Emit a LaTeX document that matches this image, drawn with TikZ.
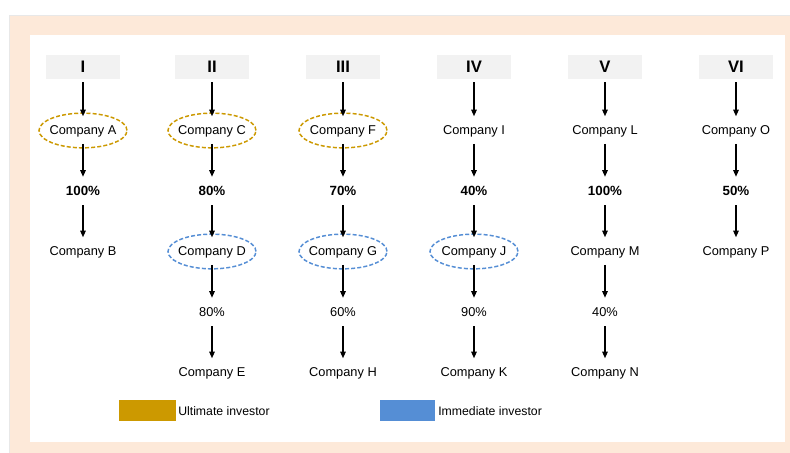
\documentclass[tikz,border=0pt]{standalone}
\usepackage{fontspec}
\setmainfont{Liberation Sans}
\usetikzlibrary{arrows.meta,shapes,positioning}
\definecolor{peach}{HTML}{FDE9D9}
\definecolor{framegray}{HTML}{E8E8E8}
\definecolor{hdrgray}{HTML}{F2F2F2}
\definecolor{ultgold}{HTML}{CC9900}
\definecolor{immblue}{HTML}{558ED5}
\tikzset{
  level/.style={fill=hdrgray, minimum width=55.5pt, minimum height=18pt, inner sep=0pt, font=\bfseries\fontsize{12.5}{14}\selectfont},
  company/.style={minimum height=20.25pt, inner sep=0pt, text height=6.9pt, text depth=0pt, font=\fontsize{9.6}{11}\selectfont},
  share/.style={minimum height=21pt, inner sep=0pt, text height=6.9pt, text depth=0pt, font=\fontsize{9.6}{11}\selectfont},
  bigshare/.style={share, text height=7.2pt, font=\bfseries\fontsize{10}{12}\selectfont},
  ultimate/.style={ellipse, draw=ultgold, line width=1.1pt, dash pattern=on 3pt off 1.6pt, minimum width=66pt, minimum height=26pt, inner sep=0pt},
  immediate/.style={ultimate, draw=immblue},
  own/.style={-{Triangle[length=5pt,width=4.2pt]}, line width=0.9pt},
  legendtext/.style={anchor=west, inner sep=0pt, text height=6.6pt, text depth=0pt, font=\fontsize{9.2}{11}\selectfont}
}
\begin{document}
\begin{tikzpicture}[x=0.75pt,y=-0.75pt]
\useasboundingbox (0,0) rectangle (790,453);
% frame
\fill[peach] (10,16) rectangle (790,453);
\draw[framegray, line width=1pt] (9.5,453) -- (9.5,15.5) -- (790,15.5);
\fill[white] (30,35) rectangle (785,442);

% headers
\node[level] (hI) at (83,67) {I};
\node[level] (hII) at (212,67) {II};
\node[level] (hIII) at (343,67) {III};
\node[level] (hIV) at (474,67) {IV};
\node[level] (hV) at (605,67) {V};
\node[level] (hVI) at (736,67) {VI};

% investor marks
\node[ultimate] (eA) at (83,130.5) {};
\node[ultimate] (eC) at (212,130.5) {};
\node[ultimate] (eF) at (343,130.5) {};
\node[immediate] (eD) at (212,251.5) {};
\node[immediate] (eG) at (343,251.5) {};
\node[immediate] (eJ) at (474,251.5) {};

% column I
\node[company] (cA) at (83,130) {Company A};
\node[bigshare] (sA) at (83,191) {100\%};
\node[company] (cB) at (83,251) {Company B};

% column II
\node[company] (cC) at (212,130) {Company C};
\node[bigshare] (sC) at (212,191) {80\%};
\node[company] (cD) at (212,251) {Company D};
\node[share] (sD) at (212,312) {80\%};
\node[company] (cE) at (212,372) {Company E};

% column III
\node[company] (cF) at (343,130) {Company F};
\node[bigshare] (sF) at (343,191) {70\%};
\node[company] (cG) at (343,251) {Company G};
\node[share] (sG) at (343,312) {60\%};
\node[company] (cH) at (343,372) {Company H};

% column IV
\node[company] (cI) at (474,130) {Company I};
\node[bigshare] (sI) at (474,191) {40\%};
\node[company] (cJ) at (474,251) {Company J};
\node[share] (sJ) at (474,312) {90\%};
\node[company] (cK) at (474,372) {Company K};

% column V
\node[company] (cL) at (605,130) {Company L};
\node[bigshare] (sL) at (605,191) {100\%};
\node[company] (cM) at (605,251) {Company M};
\node[share] (sM) at (605,312) {40\%};
\node[company] (cN) at (605,372) {Company N};

% column VI
\node[company] (cO) at (736,130) {Company O};
\node[bigshare] (sO) at (736,191) {50\%};
\node[company] (cP) at (736,251) {Company P};

\draw[own, shorten <=2.25pt] (hI) -- (cA);
\draw[own, shorten <=2.25pt] (hII) -- (cC);
\draw[own, shorten <=2.25pt] (hIII) -- (cF);
\draw[own, shorten <=2.25pt] (hIV) -- (cI);
\draw[own, shorten <=2.25pt] (hV) -- (cL);
\draw[own, shorten <=2.25pt] (hVI) -- (cO);

\draw[own] (cA) -- (sA);
\draw[own] (sA) -- (cB);

\draw[own] (cC) -- (sC);
\draw[own] (sC) -- (cD);
\draw[own] (cD) -- (sD);
\draw[own] (sD) -- (cE);

\draw[own] (cF) -- (sF);
\draw[own] (sF) -- (cG);
\draw[own] (cG) -- (sG);
\draw[own] (sG) -- (cH);

\draw[own] (cI) -- (sI);
\draw[own] (sI) -- (cJ);
\draw[own] (cJ) -- (sJ);
\draw[own] (sJ) -- (cK);

\draw[own] (cL) -- (sL);
\draw[own] (sL) -- (cM);
\draw[own] (cM) -- (sM);
\draw[own] (sM) -- (cN);

\draw[own] (cO) -- (sO);
\draw[own] (sO) -- (cP);

% legend
\fill[ultgold] (119,400) rectangle (176,421);
\node[legendtext] (lU) at (178,411) {Ultimate investor};
\fill[immblue] (380,400) rectangle (435,421);
\node[legendtext] (lI) at (438,411) {Immediate investor};
\end{tikzpicture}
\end{document}
